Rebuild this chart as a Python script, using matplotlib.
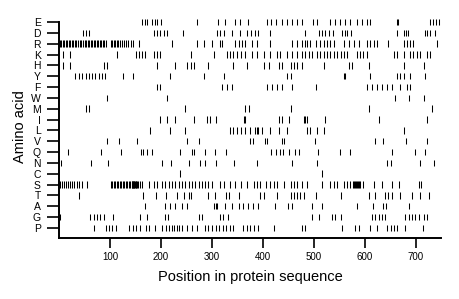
import matplotlib
matplotlib.use("Agg")
import matplotlib.pyplot as plt

plt.rcParams['font.family'] = ['Liberation Sans', 'DejaVu Sans']

amino_acids = ['E', 'D', 'R', 'K', 'H', 'Y', 'F', 'W', 'M', 'I',
               'L', 'V', 'Q', 'N', 'C', 'S', 'T', 'A', 'G', 'P']

pos_E = [163, 168, 173, 182, 188, 193, 200, 271, 312, 326, 345, 355, 370, 408, 415,
         425, 437, 447, 457, 467, 476, 499, 505, 531, 541, 551, 561, 571, 584, 594,
         603, 610, 662, 665, 727, 734, 740, 746]
pos_D = [48, 53, 58, 186, 192, 199, 205, 212, 244, 310, 316, 323, 339, 355, 369, 376,
         385, 390, 414, 483, 509, 516, 522, 529, 538, 555, 560, 565, 572, 663, 676, 680,
         684, 717, 722, 728, 738]
pos_R = [1, 4, 7, 10, 13, 16, 19, 22, 25, 28, 31, 34, 37, 41, 44, 47, 50, 53, 56, 59,
         62, 65, 68, 71, 74, 77, 80, 83, 86, 89, 92, 101, 104, 107, 110, 113, 116, 120,
         124, 128, 132, 136, 141, 146, 156, 222, 271, 284, 300, 316, 320, 346, 352, 359,
         365, 378, 388, 414, 457, 467, 476, 483, 486, 493, 503, 512, 519, 525, 532, 539,
         558, 568, 578, 588, 604, 610, 617, 624, 646, 676, 682, 689, 695, 741]
pos_K = [8, 22, 114, 150, 156, 163, 169, 186, 192, 199, 258, 303, 329, 336, 342, 349,
         356, 365, 378, 388, 401, 414, 427, 434, 447, 457, 467, 476, 483, 490, 496, 506,
         512, 519, 525, 532, 539, 545, 552, 558, 565, 584, 591, 597, 604, 656, 663, 676,
         689, 695, 702, 708, 722, 728]
pos_H = [8, 22, 88, 94, 192, 228, 251, 258, 264, 293, 342, 369, 401, 411, 431, 437,
         454, 460, 467, 476, 519, 568, 574, 607, 676, 715]
pos_Y = [32, 39, 45, 52, 58, 65, 71, 78, 84, 91, 125, 146, 218, 284, 323, 447, 454,
         558, 561, 610, 663, 669, 676, 689, 718]
pos_F = [192, 199, 320, 329, 339, 408, 418, 427, 437, 457, 503, 604, 614, 624, 633,
         643, 653, 669, 682, 689]
pos_W = [94, 212, 659, 686, 715]
pos_M = [52, 58, 248, 365, 372, 454, 607, 731]
pos_I = [199, 212, 228, 264, 290, 297, 307, 362, 365, 431, 437, 450, 480, 483, 486,
         522, 627, 722]
pos_L = [179, 218, 248, 336, 342, 349, 356, 365, 375, 385, 388, 391, 398, 414, 431,
         447, 486, 493, 506, 519, 676]
pos_V = [94, 117, 153, 251, 275, 375, 380, 403, 407, 438, 441, 502, 620, 635, 680, 722]
pos_Q = [18, 82, 122, 160, 165, 172, 183, 237, 260, 265, 286, 305, 328, 415, 425, 433,
         440, 450, 463, 471, 507, 550, 571, 653, 699, 718]
pos_N = [3, 62, 97, 202, 219, 254, 277, 287, 307, 343, 388, 457, 506, 643, 650, 708, 735]
pos_C = [237, 516]
pos_S = [2, 6, 10, 14, 18, 22, 26, 30, 36, 40, 46, 54, 101, 104, 107, 110, 113, 116,
         119, 122, 125, 128, 131, 134, 137, 140, 143, 144, 145, 146, 147, 148, 149, 150,
         151, 152, 155, 159, 163, 176, 186, 192, 202, 208, 215, 222, 228, 235, 241, 248,
         254, 261, 267, 274, 280, 287, 293, 300, 316, 323, 336, 346, 356, 369, 382, 388,
         395, 405, 414, 421, 427, 441, 454, 460, 467, 476, 486, 516, 532, 539, 545, 558,
         565, 571, 576, 578, 580, 582, 584, 586, 588, 591, 597, 617, 633, 653, 666, 705,
         710]
pos_T = [40, 165, 190, 209, 232, 245, 254, 258, 293, 306, 328, 334, 353, 395, 401, 427,
         454, 460, 467, 473, 480, 503, 552, 607, 620, 640, 646, 653, 669, 692, 708, 725]
pos_A = [169, 208, 218, 228, 241, 251, 303, 307, 310, 326, 339, 352, 361, 370, 380, 390,
         424, 449, 457, 496, 516, 584, 616, 635, 642, 687]
pos_G = [1, 61, 68, 75, 81, 88, 105, 159, 173, 208, 213, 275, 280, 315, 321, 331, 496,
         509, 535, 541, 552, 614, 620, 627, 633, 640, 679, 686, 692, 699, 705, 715, 722]
pos_P = [68, 93, 98, 104, 112, 138, 145, 151, 159, 171, 177, 188, 202, 209, 215, 222,
         225, 231, 235, 241, 251, 261, 270, 287, 293, 300, 307, 313, 321, 327, 336, 342,
         360, 369, 375, 382, 390, 422, 476, 483, 555, 581, 588, 610, 624, 643, 650, 656,
         663, 679, 713]

positions = [pos_E, pos_D, pos_R, pos_K, pos_H, pos_Y, pos_F, pos_W, pos_M, pos_I,
             pos_L, pos_V, pos_Q, pos_N, pos_C, pos_S, pos_T, pos_A, pos_G, pos_P]
x_ticks = [100, 200, 300, 400, 500, 600, 700]

fig = plt.figure(figsize=(4.6, 2.99), dpi=100)
ax = fig.add_axes([59 / 460, 61 / 299, 382 / 460, 222.5 / 299])

n = len(amino_acids)
for i, p in enumerate(positions):
    y = n - 1 - i
    ax.vlines(p, y - 0.3, y + 0.3, color='black', linewidth=0.75, clip_on=False)

ax.set_xlim(0, 749)
ax.set_ylim(-0.93, 19.6)
ax.set_yticks(range(n))
ax.set_yticklabels(amino_acids[::-1])
ax.set_xticks(x_ticks)
ax.set_xticklabels([str(t) for t in x_ticks])

for s in ['top', 'right']:
    ax.spines[s].set_visible(False)
ax.spines['left'].set_bounds(-0.93, 19)
ax.spines['left'].set_linewidth(1.4)
ax.spines['bottom'].set_linewidth(1.4)

ax.tick_params(axis='y', length=9, width=1.2, pad=4, labelsize=7.5)
ax.tick_params(axis='x', length=7, width=1.2, pad=3, labelsize=7)
ax.set_xlabel('Position in protein sequence', fontsize=10.5, labelpad=6)
ax.set_ylabel('Amino acid', fontsize=10.5, labelpad=3)

fig.savefig('out.png', dpi=100)
